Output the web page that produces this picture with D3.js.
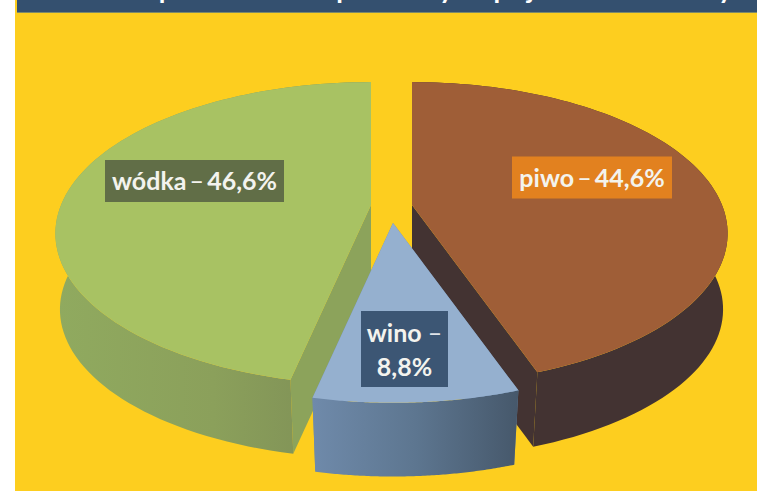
<!DOCTYPE html>
<html>
<head>
<meta charset="utf-8">
<script src="https://cdn.jsdelivr.net/npm/d3@7"></script>
<style>
  body { margin: 0; background: #fff; }
  svg { display: block; }
  text { font-family: Lato, sans-serif; font-weight: 700; }
</style>
</head>
<body>
<div id="chart"></div>
<script>
const categories = ["piwo", "wino", "wódka"];
const values = [44.6, 8.8, 46.6];
const valueLabels = ["44,6%", "8,8%", "46,6%"];
const titleText = "Struktura procentowa sprzedaży napojów alkoholowych";

const width = 757, height = 491;

// top face colour, side colour(s), label box colour
const topColors = ["#9f5e37", "#95b0cf", "#a8c263"];
const innerColors = ["#433332", "#6d88a8", "#8ca35b"];
const labelColors = ["#e2811f", "#3c5674", "#616e47"];

// exploded centre of every slice and where its label box sits
const centers = [[412, 205], [393, 223], [371, 205]];
const labelCenters = [[592, 177.5], [404.5, 349], [194.5, 181]];

// fake 3d: ellipse with a bit of perspective, bottom rim pulled in more at the front
const R = 310, Ry = 146, persp = 0.188, depth = 80;

function project(angle, c, bottom) {
  const u = Math.sin(angle), v = -Math.cos(angle);
  const s = 1 / (1 - persp * v);
  const k = bottom ? 0.99 - 0.025 * v : 1;
  return [c[0] + R * u * s * k, c[1] + Ry * v * s * k + (bottom ? depth : 0)];
}

function rim(a0, a1, c, bottom) {
  const n = 90;
  return d3.range(n + 1).map(i => project(a0 + (a1 - a0) * i / n, c, bottom));
}

const svg = d3.select("#chart").append("svg")
  .attr("width", width)
  .attr("height", height);

const defs = svg.append("defs");
function wallGradient(id, stops) {
  const g = defs.append("linearGradient").attr("id", id);
  stops.forEach((s, i) => g.append("stop")
    .attr("offset", i / (stops.length - 1))
    .attr("stop-color", s));
}
wallGradient("wall-piwo", ["#433332", "#433332"]);
wallGradient("wall-wino", ["#6f8aaa", "#5d7690", "#46586b"]);
wallGradient("wall-wodka", ["#90aa5f", "#8ba05b", "#7b8b55"]);
const wallFill = ["url(#wall-piwo)", "url(#wall-wino)", "url(#wall-wodka)"];

// background and the cut off title bar
svg.append("rect").attr("x", 15).attr("y", 0)
  .attr("width", width - 15).attr("height", height)
  .attr("fill", "#fdce1f");
svg.append("rect").attr("x", 17).attr("y", 0)
  .attr("width", width - 17).attr("height", 12)
  .attr("fill", "#34506f");
svg.append("rect").attr("x", 17).attr("y", 12)
  .attr("width", width - 17).attr("height", 1)
  .attr("fill", "#7d8a6a");
svg.append("text")
  .attr("x", 26).attr("y", -1)
  .attr("font-size", 27)
  .attr("textLength", 737)
  .attr("fill", "#fff")
  .text(titleText);

const arcs = d3.pie().sort(null).value(d => d)(values);
const line = d3.line();

// back to front
const order = [0, 2, 1];
order.forEach(i => {
  const a = arcs[i], c = centers[i];
  const g = svg.append("g").attr("class", "slice");

  // cut walls
  const cBottom = [c[0], c[1] + depth];
  [a.startAngle, a.endAngle].forEach(e => {
    g.append("path")
      .attr("d", line([c, project(e, c, false), project(e, c, true), cBottom]) + "Z")
      .attr("fill", innerColors[i]);
  });

  // outer wall
  const wall = rim(a.startAngle, a.endAngle, c, false)
    .concat(rim(a.endAngle, a.startAngle, c, true));
  g.append("path")
    .attr("d", line(wall) + "Z")
    .attr("fill", wallFill[i]);

  // top face
  g.append("path")
    .attr("d", line([c].concat(rim(a.startAngle, a.endAngle, c, false))) + "Z")
    .attr("fill", topColors[i]);
});

// labels
categories.forEach((name, i) => {
  const g = svg.append("g")
    .attr("transform", `translate(${labelCenters[i][0]},${labelCenters[i][1]})`);
  const box = g.append("rect").attr("fill", labelColors[i]);

  const t = g.append("text")
    .attr("text-anchor", "middle")
    .attr("font-size", 25)
    .attr("fill", "#f3f3ee");

  if (name === "wino") {
    // two lines here, slice is too narrow
    const l1 = t.append("tspan").attr("x", 0).attr("y", -7);
    l1.append("tspan").text(name + " ");
    l1.append("tspan").attr("font-weight", 400).attr("fill", "#dfe3e8").text("–");
    t.append("tspan").attr("x", 0).attr("y", 27).text(valueLabels[i]);
    box.attr("x", -43.5).attr("y", -38).attr("width", 87).attr("height", 76);
  } else {
    t.attr("y", 9).attr("word-spacing", -3);
    t.append("tspan").text(name + " ");
    t.append("tspan").attr("font-weight", 400).text("–");
    t.append("tspan").text(" " + valueLabels[i]);
    const w = i === 0 ? 160 : 179;
    box.attr("x", -w / 2).attr("y", -21).attr("width", w).attr("height", 42);
  }
});
</script>
</body>
</html>
